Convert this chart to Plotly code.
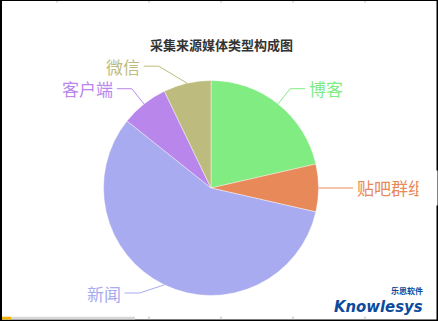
import math
import plotly.graph_objects as go

# ---- data ----
labels = ["博客", "贴吧群组", "新闻", "客户端", "微信"]
values = [300, 100, 800, 100, 100]
colors = ["#81ec81", "#e8895a", "#a9abf0", "#b987ec", "#bdbc7e"]
title_text = "采集来源媒体类型构成图"

# ---- layout constants (pixels) ----
W, H = 438, 321
CX, CY, R = 211, 188, 107.5
R_BEND = 127
H_LEN = 15
GAP = 3
Y_MIN, Y_MAX = 40, 293
nudge = {"微信": (-24, 2)}


def px(x):
    return x / W


def py(y):
    return 1 - y / H


fig = go.Figure()
fig.add_trace(go.Pie(
    labels=labels, values=values, sort=False, direction="clockwise", rotation=0,
    marker=dict(colors=colors, line=dict(color="white", width=0.4)),
    textinfo="none", hoverinfo="label+value+percent", showlegend=False,
    domain=dict(x=[px(CX - R), px(CX + R)], y=[py(CY + R), py(CY - R)]),
))

shapes = []
annotations = []
total = sum(values)
cum = 0
for lab, val, col in zip(labels, values, colors):
    mid = (cum + val / 2) / total * 2 * math.pi
    cum += val
    sx, sy = CX + R * math.sin(mid), CY - R * math.cos(mid)
    by = CY - R_BEND * math.cos(mid)
    by = min(max(by, Y_MIN), Y_MAX)
    dx = math.sqrt(max(R_BEND ** 2 - (by - CY) ** 2, 0))
    side = 1 if math.sin(mid) >= 0 else -1
    bx = CX + side * dx
    if lab in nudge:
        bx += nudge[lab][0]
        by += nudge[lab][1]
    ex = bx + side * H_LEN
    shapes.append(dict(type="path", xref="paper", yref="paper",
                       path=f"M {px(sx)} {py(sy)} L {px(bx)} {py(by)} L {px(ex)} {py(by)}",
                       line=dict(color=col, width=1)))
    annotations.append(dict(
        x=px(ex + side * GAP), y=py(by), xref="paper", yref="paper",
        text=lab, showarrow=False, xanchor="left" if side > 0 else "right", yanchor="middle",
        font=dict(family="Noto Sans CJK SC", size=17, color=col), borderpad=0))

# clip cover on the right (chart canvas edge)
annotations.append(dict(x=px(418), y=py(188), xref="paper", yref="paper", text=" ",
                        showarrow=False, xanchor="left", yanchor="middle",
                        width=18, height=34, bgcolor="white", borderpad=0))

# title
annotations.append(dict(x=px(221), y=py(44), xref="paper", yref="paper", text=title_text,
                        showarrow=False, xanchor="center", yanchor="middle",
                        font=dict(family="Noto Sans CJK SC", size=13, color="#333333", weight="bold")))

# logo
annotations.append(dict(x=px(333), y=py(306), xref="paper", yref="paper", text="Knowlesys",
                        showarrow=False, xanchor="left", yanchor="middle", borderpad=0,
                        font=dict(family="DejaVu Sans Condensed, DejaVu Sans, sans-serif",
                                  size=16.5, color="#0b4a9c", weight="bold", style="italic")))
annotations.append(dict(x=px(424), y=py(290), xref="paper", yref="paper", text="乐思软件",
                        showarrow=False, xanchor="right", yanchor="middle", borderpad=0,
                        font=dict(family="Noto Sans CJK SC", size=8, color="#0b4a9c", weight="bold")))

# frame and screenshot decorations
shapes += [
    dict(type="rect", xref="paper", yref="paper", x0=px(0), x1=px(2), y0=0, y1=1,
         fillcolor="black", line=dict(width=0)),
    dict(type="rect", xref="paper", yref="paper", x0=0, x1=1, y0=py(1), y1=1,
         fillcolor="black", line=dict(width=0)),
    dict(type="rect", xref="paper", yref="paper", x0=px(436.5), x1=1, y0=0, y1=1,
         fillcolor="black", line=dict(width=0)),
    dict(type="rect", xref="paper", yref="paper", x0=0, x1=1, y0=0, y1=py(319.5),
         fillcolor="black", line=dict(width=0)),
    dict(type="rect", xref="paper", yref="paper", x0=px(2), x1=px(135), y0=py(319.5), y1=py(316.8),
         fillcolor="#d8d8d8", line=dict(width=0)),
    dict(type="rect", xref="paper", yref="paper", x0=px(2), x1=px(11), y0=py(319.5), y1=py(316.8),
         fillcolor="#f4b400", line=dict(width=0)),
]
for tx in [57, 149, 221, 293, 365]:
    shapes.append(dict(type="line", xref="paper", yref="paper", x0=px(tx), x1=px(tx),
                       y0=py(1), y1=py(2.5), line=dict(color="#b0b0b0", width=1)))
for tx in [149, 221, 293, 365]:
    shapes.append(dict(type="line", xref="paper", yref="paper", x0=px(tx), x1=px(tx),
                       y0=py(319.5), y1=py(316.5), line=dict(color="#b0b0b0", width=1)))

fig.update_layout(width=W, height=H, margin=dict(l=0, r=0, t=0, b=0),
                  paper_bgcolor="white", plot_bgcolor="white",
                  shapes=shapes, annotations=annotations)
fig.write_html("out.html")
